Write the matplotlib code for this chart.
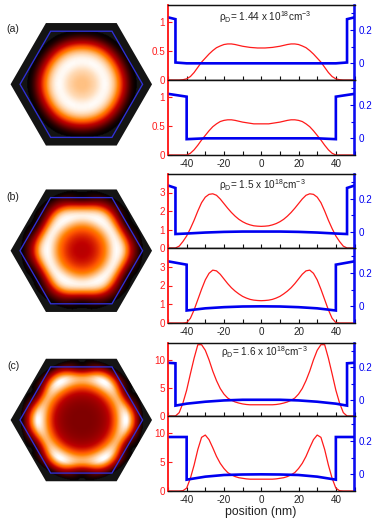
"""Charge density maps and line profiles for three doping levels."""
import numpy as np
import matplotlib
matplotlib.use("Agg")
import matplotlib.pyplot as plt
from matplotlib.patches import Polygon

plt.rcParams.update({
    "font.family": ["Liberation Sans", "DejaVu Sans"],
    "mathtext.fontset": "custom",
    "mathtext.rm": "Liberation Sans",
    "mathtext.it": "Liberation Sans",
    "mathtext.default": "regular",
    "axes.unicode_minus": False,
})

W, H = 374, 528
RED = "#ff1a1a"
BLUE = "#0000f0"
TEXT = "#222222"

# half profiles, -50 nm to 0 nm, mirrored when drawn
POS = np.arange(-50, 1, 2)
RED_A1 = [0, 0, 0, 0, 0.005, 0.02, 0.06, 0.13, 0.22, 0.31, 0.38, 0.45, 0.51,
          0.56, 0.59, 0.615, 0.625, 0.625, 0.615, 0.6, 0.585, 0.575, 0.565, 0.56, 0.555, 0.555]
RED_A2 = [0, 0, 0, 0, 0, 0, 0.03, 0.09, 0.17, 0.26, 0.34, 0.42, 0.49,
          0.54, 0.58, 0.6, 0.61, 0.61, 0.6, 0.585, 0.57, 0.56, 0.55, 0.54, 0.54, 0.54]
RED_B1 = [0, 0, 0, 0.1, 0.35, 0.65, 1.05, 1.5, 2.0, 2.45, 2.75, 2.9, 2.93,
          2.85, 2.65, 2.4, 2.15, 1.92, 1.72, 1.55, 1.42, 1.32, 1.25, 1.2, 1.18, 1.17]
RED_B2 = [0, 0, 0, 0, 0, 0.02, 0.25, 0.7, 1.25, 1.8, 2.3, 2.65, 2.82,
          2.78, 2.6, 2.35, 2.1, 1.88, 1.7, 1.55, 1.42, 1.33, 1.26, 1.22, 1.2, 1.19]
RED_C1 = [0, 0, 0, 0.6, 2.3, 4.6, 7.5, 10.3, 12.7, 12.7, 11.7, 10.0, 8.0,
          6.3, 4.9, 3.9, 3.2, 2.8, 2.5, 2.3, 2.15, 2.05, 2.0, 2.0, 2.0, 2.0]
RED_C2 = [0, 0, 0, 0, 0.05, 0.5, 2.2, 4.5, 7.2, 9.3, 9.7, 8.9, 7.5,
          6.0, 4.8, 3.9, 3.2, 2.8, 2.5, 2.3, 2.2, 2.1, 2.05, 2.05, 2.05, 2.05]

BLUE_X1 = [-50, -46, -46, -40, -30, -20, -10, 0]
BLUE_X2 = [-50, -40, -40, -30, -20, -10, 0]
BLUE_A1 = [0.276, 0.265, 0.005, 0.0, 0.0, 0.0, 0.0, 0.0]
BLUE_A2 = [0.267, 0.25, -0.005, 0.0, 0.0, 0.0, 0.0]
BLUE_B1 = [0.28, 0.265, -0.015, -0.012, -0.006, -0.002, 0.0, 0.0]
BLUE_B2 = [0.27, 0.25, -0.025, -0.012, -0.005, -0.001, 0.0]
BLUE_C1 = [0.228, 0.225, -0.036, -0.024, -0.012, -0.004, 0.0, 0.0]
BLUE_C2 = [0.224, 0.224, -0.032, -0.014, -0.004, -0.001, 0.0]

LABELS = ["(a)", "(b)", "(c)"]
TITLES = [r"$\rho_D$= 1.44 x 10$^{18}$cm$^{-3}$",
          r"$\rho_D$= 1.5 x 10$^{18}$cm$^{-3}$",
          r"$\rho_D$= 1.6 x 10$^{18}$cm$^{-3}$"]
RED_TICKS = [[0, 0.5, 1], [0, 1, 2, 3], [0, 5, 10]]
RED_TICKLABELS = [["0", "0.5", "1"], ["0", "1", "2", "3"], ["0", "5", "10"]]
RED_MAX = [1.3, 4.0, 13.0]
POS_TICKS = [-40, -20, 0, 20, 40]
MAP_GAMMA = [1.0, 0.8, 0.6]
MAP_ANISO = [0.35, 0.85, 1.0]


def mirror(x, y):
    x = np.asarray(x, float)
    y = np.asarray(y, float)
    return np.r_[x, -x[-2::-1]], np.r_[y, y[-2::-1]]


def px_axes(left, top, right, bottom):
    return fig.add_axes([left / W, 1 - bottom / H, (right - left) / W, (bottom - top) / H])


def hexagon(radius):
    ang = np.deg2rad(np.arange(0, 360, 60))
    return np.c_[radius * np.cos(ang), radius * np.sin(ang)]


def density_map(ax, corner, flat, gamma, aniso):
    # corner direction comes from the upper profile, flat direction from the lower one
    grid = np.linspace(-54, 54, 217)
    xx, yy = np.meshgrid(grid, grid)
    rr = np.hypot(xx, yy)
    theta = np.arctan2(yy, xx)
    weight = (1 - np.cos(6 * theta)) / 2
    # round in the middle, hexagonal only towards the edge
    weight = 0.5 + (weight - 0.5) * np.clip((rr - 12) / 20, 0, 1) * aniso
    field = (1 - weight) * np.interp(-rr, POS, corner) + weight * np.interp(-rr, POS, flat)
    field = (field / max(max(corner), max(flat))) ** gamma

    ax.add_patch(Polygon(hexagon(53.3), closed=True, fc="#141414", ec="none", zorder=1))
    cmap = plt.get_cmap("gist_heat").copy()
    cmap.set_bad(alpha=0)
    im = ax.imshow(np.ma.masked_less(field, 0.012), cmap=cmap, vmin=0, vmax=1,
                   extent=[-54, 54, -54, 54], origin="lower", interpolation="bilinear", zorder=2)
    im.set_clip_path(Polygon(hexagon(53.3), closed=True, transform=ax.transData))
    ax.add_patch(Polygon(hexagon(46.2), closed=True, fc="none", ec="#3030d8", lw=0.95, zorder=3))
    ax.set_xlim(-54, 54)
    ax.set_ylim(-54, 54)
    ax.set_aspect("equal")
    ax.axis("off")


def profile(top, bottom, red, blue_x, blue_y, red_i, show_x):
    ax = px_axes(168, top, 354.5, bottom)
    x, y = mirror(POS, red)
    ax.plot(x, y, color=RED, lw=0.9)
    ax.set_xlim(-50, 50)
    ax.set_ylim(0, RED_MAX[red_i])
    ax.set_xticks(POS_TICKS)
    ax.set_xticks(np.arange(-50, 51, 10), minor=True)
    ax.set_yticks(RED_TICKS[red_i])
    ax.set_yticklabels(RED_TICKLABELS[red_i])
    ax.tick_params(axis="x", which="both", direction="in", length=3, width=0.8,
                   color="#111111", labelsize=7.1, labelcolor=TEXT, pad=3,
                   labelbottom=show_x)
    ax.tick_params(axis="y", direction="in", length=3.2, width=0.8, color=RED,
                   labelcolor=RED, labelsize=7.1, pad=2)

    tw = ax.twinx()
    bx, by = mirror(blue_x, blue_y)
    tw.plot(bx, by, color=BLUE, lw=1.9, solid_joinstyle="miter")
    tw.set_ylim(-0.1, 0.35)
    tw.set_yticks([0, 0.2])
    tw.set_yticklabels(["0", "0.2"])
    tw.set_yticks([0.1, 0.3], minor=True)
    tw.tick_params(axis="y", which="major", direction="in", length=3.2, width=0.8, color=BLUE,
                   labelcolor=BLUE, labelsize=7.1, pad=3)
    tw.tick_params(axis="y", which="minor", direction="in", length=2.2, width=0.8, color=BLUE)
    for a in (ax, tw):
        a.spines["left"].set_color(RED)
        a.spines["left"].set_linewidth(1.1)
        a.spines["right"].set_color(BLUE)
        a.spines["right"].set_linewidth(1.1)
        a.spines["top"].set_color("#111111")
        a.spines["top"].set_linewidth(0.9)
        a.spines["bottom"].set_color("#111111")
        a.spines["bottom"].set_linewidth(0.9)
    return ax


fig = plt.figure(figsize=(W / 100, H / 100), dpi=100)

hex_centers = [84.3, 250.7, 420]
label_y = [29, 197, 366]
for cy, lab, ly, corner, flat, gam, ani in zip(hex_centers, LABELS, label_y,
                                               [RED_A1, RED_B1, RED_C1], [RED_A2, RED_B2, RED_C2],
                                               MAP_GAMMA, MAP_ANISO):
    half = 54 * 1.327
    density_map(px_axes(81.3 - half, cy - half, 81.3 + half, cy + half), corner, flat, gam, ani)
    fig.text(13 / W, 1 - ly / H, lab, fontsize=7.6, color=TEXT, ha="center", va="center")

profile(5, 80, RED_A1, BLUE_X1, BLUE_A1, 0, False)
profile(80, 155, RED_A2, BLUE_X2, BLUE_A2, 0, True)
profile(174, 248, RED_B1, BLUE_X1, BLUE_B1, 1, False)
profile(248, 323, RED_B2, BLUE_X2, BLUE_B2, 1, True)
profile(343, 416, RED_C1, BLUE_X1, BLUE_C1, 2, False)
profile(416, 491, RED_C2, BLUE_X2, BLUE_C2, 2, True)

for title, tx, ty in zip(TITLES, [265, 262, 264], [17, 185, 352]):
    fig.text(tx / W, 1 - ty / H, title, fontsize=7.2, color=TEXT, ha="center", va="center")
fig.text(261 / W, 1 - 512 / H, "position (nm)", fontsize=8.8, color=TEXT, ha="center", va="center")

fig.savefig("out.png", dpi=100)
